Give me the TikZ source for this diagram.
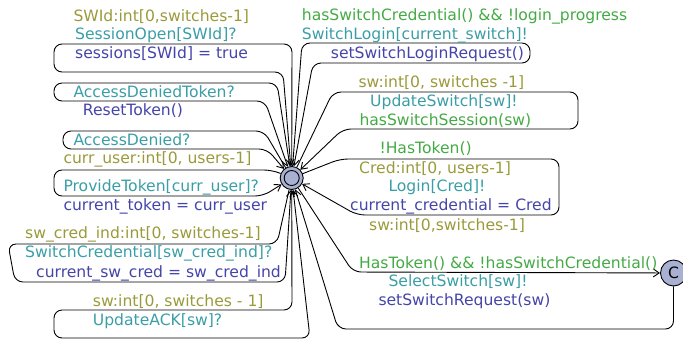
\documentclass[tikz,border=0pt]{standalone}
\usepackage{fontspec}
\setmainfont{DejaVu Sans}
\usetikzlibrary{arrows.meta}
\definecolor{selc}{RGB}{154,154,58}
\definecolor{syncc}{RGB}{58,158,166}
\definecolor{asgc}{RGB}{68,68,170}
\definecolor{grdc}{RGB}{68,170,68}
\definecolor{locc}{RGB}{169,177,211}
\tikzset{
  lbl/.style={anchor=base west,inner sep=0pt,font=\fontsize{15.6}{18}\selectfont},
  sel/.style={lbl,text=selc},
  syn/.style={lbl,text=syncc},
  asg/.style={lbl,text=asgc},
  grd/.style={lbl,text=grdc},
  edge/.style={line width=0.9pt,rounded corners=8pt,-{Straight Barb[length=6pt,width=8pt]}},
  loc/.style={circle,draw,line width=0.9pt,fill=locc,minimum size=23pt,inner sep=0pt},
}
\begin{document}
\begin{tikzpicture}[x=1pt,y=-1pt]
\useasboundingbox (0,0) rectangle (683,341);
% locations
\node[loc] (N) at (291.7,178) {};
\draw[line width=0.9pt] (N.center) circle (7.5pt);
\node[loc,minimum size=26pt,font=\fontsize{15.6}{18}\selectfont] (C) at (673.5,273) {C};

% left loops
\draw[edge] (N) -- (292,44) -- (54,44) -- (54,72) -- (283,72) -- (N);
\draw[edge] (N) -- (277,83) -- (54,83) -- (54,101) -- (265,101) -- (N);
\draw[edge] (N) -- (264,131) -- (63,131) -- (63,149) -- (267,149) -- (N);
\draw[edge] (N) -- (272,170) -- (54,170) -- (54,196) -- (263,196) -- (N);
\draw[edge] (N) -- (277,244) -- (8,244) -- (15,282) -- (285,282) -- (N);
\draw[edge] (N) -- (292,310) -- (54,310) -- (54,338) -- (310,338) -- (N);
% right loops
\draw[edge] (N) -- (302,43) -- (530,43) -- (530,63) -- (313,63) -- (N);
\draw[edge] (N) -- (333,92) -- (578,92) -- (578,129) -- (343,129) -- (N);
\draw[edge] (N) -- (340,159) -- (559,159) -- (559,215) -- (357,215) -- (N);
% to C and back
\draw[edge] (N) -- (353,272) -- (C);
\draw[edge] (C) -- (673.5,329) -- (338,329) -- (N);

% labels left
\node[sel] (a1) at (73.3,21) {SWId:int[0,switches-1]};
\node[syn] (a2) at (75,39.5) {SessionOpen[SWId]?};
\node[asg] (a3) at (75,58) {sessions[SWId] = true};
\node[syn] (b1) at (73.3,97) {AccessDeniedToken?};
\node[asg] (b2) at (82.7,115.5) {ResetToken()};
\node[syn] (c1) at (73.3,145) {AccessDenied?};
\node[sel] (d1) at (63.3,163.3) {curr\_user:int[0, users-1]};
\node[syn] (d2) at (63.3,191.7) {ProvideToken[curr\_user]?};
\node[asg] (d3) at (63.3,210.7) {current\_token = curr\_user};
\node[sel] (e1) at (25,238.3) {sw\_cred\_ind:int[0, switches-1]};
\node[syn] (e2) at (25,257.7) {SwitchCredential[sw\_cred\_ind]?};
\node[asg] (e3) at (36,277.3) {current\_sw\_cred = sw\_cred\_ind};
\node[sel] (f1) at (92.7,306.7) {sw:int[0, switches - 1]};
\node[syn] (f2) at (92.7,325) {UpdateACK[sw]?};
% labels right
\node[grd] (g1) at (301.7,20.7) {hasSwitchCredential() \&\& !login\_progress};
\node[syn] (g2) at (301.7,39) {SwitchLogin[current\_switch]!};
\node[asg] (g3) at (330.7,58.3) {setSwitchLoginRequest()};
\node[sel] (h1) at (358.3,87.3) {sw:int[0, switches -1]};
\node[syn] (h2) at (370,106.7) {UpdateSwitch[sw]!};
\node[grd] (h3) at (359.3,125) {hasSwitchSession(sw)};
\node[grd] (i1) at (379.3,153.3) {!HasToken()};
\node[sel] (i2) at (359,173.3) {Cred:int[0, users-1]};
\node[syn] (i3) at (388.3,191.7) {Login[Cred]!};
\node[asg] (i4) at (350,210.7) {current\_credential = Cred};
\node[sel] (j1) at (369,230) {sw:int[0,switches-1]};
\node[grd] (j2) at (359,268.3) {HasToken() \&\& !hasSwitchCredential()};
\node[syn] (j3) at (388.3,286.7) {SelectSwitch[sw]!};
\node[asg] (j4) at (378.3,305) {setSwitchRequest(sw)};
\end{tikzpicture}
\end{document}
